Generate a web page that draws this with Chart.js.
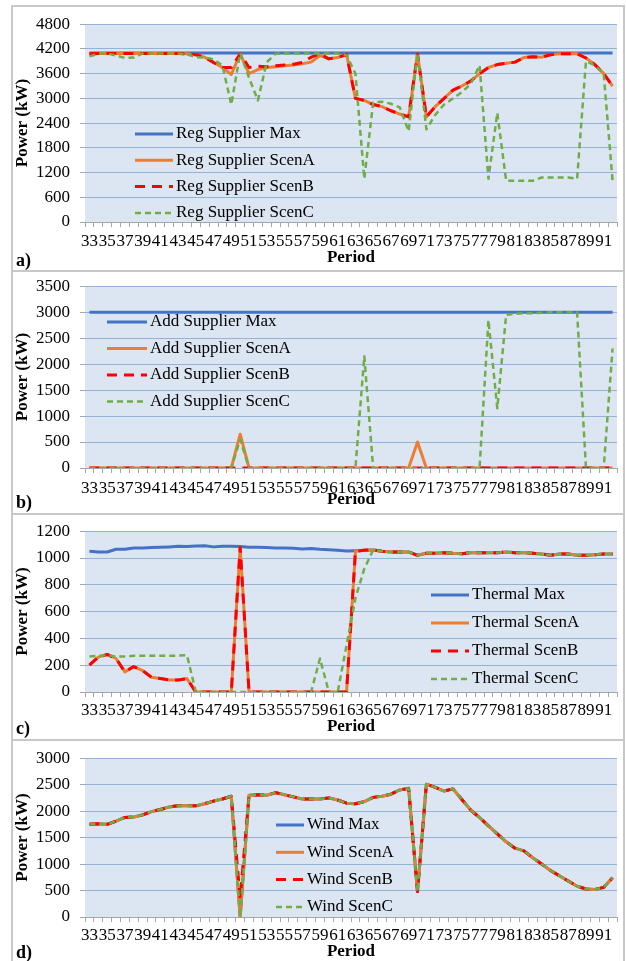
<!DOCTYPE html>
<html>
<head>
<meta charset="utf-8">
<script src="https://cdn.jsdelivr.net/npm/chart.js@4.4.0/dist/chart.umd.min.js"></script>
<style>
  body { margin: 0; background: #fff; width: 626px; height: 961px; overflow: hidden; position: relative; }
  .panel { position: absolute; left: 11px; width: 614px; border: 2px solid #c8c8c8; box-sizing: border-box; }
  canvas { position: absolute; left: 12px; }
  .tag { position: absolute; left: 16px; font: bold 18px "Liberation Serif", serif; line-height: 20px; }
</style>
</head>
<body>
<div class="panel" style="top:5px;height:267px"></div>
<div class="panel" style="top:270px;height:245px"></div>
<div class="panel" style="top:513px;height:228px"></div>
<div class="panel" style="top:739px;height:225px"></div>

<canvas id="chartA" width="612" height="268" style="top:4px"></canvas>
<canvas id="chartB" width="612" height="248" style="top:266px"></canvas>
<canvas id="chartC" width="612" height="230" style="top:511px"></canvas>
<canvas id="chartD" width="612" height="228" style="top:738px"></canvas>

<div class="tag" style="top:250px">a)</div>
<div class="tag" style="top:492px">b)</div>
<div class="tag" style="top:718px">c)</div>
<div class="tag" style="top:942px">d)</div>

<script>
// periods on the x axis, every other one is labelled
const periods = [33,34,35,36,37,38,39,40,41,42,43,44,45,46,47,48,49,50,51,52,
                 53,54,55,56,57,58,59,60,61,62,63,64,65,66,67,68,69,70,71,72,
                 73,74,75,76,77,78,79,80,81,82,83,84,85,86,87,88,89,90,91,92];
const periodTicks = [33,35,37,39,41,43,45,47,49,51,53,55,57,59,61,63,65,67,69,71,
                     73,75,77,79,81,83,85,87,89,91];

// a) regular supplier
const regTicks = [0,600,1200,1800,2400,3000,3600,4200,4800];
const regMax = [4100,4100,4100,4100,4100,4100,4100,4100,4100,4100,4100,4100,4100,4100,4100,4100,4100,4100,4100,4100,
                4100,4100,4100,4100,4100,4100,4100,4100,4100,4100,4100,4100,4100,4100,4100,4100,4100,4100,4100,4100,
                4100,4100,4100,4100,4100,4100,4100,4100,4100,4100,4100,4100,4100,4100,4100,4100,4100,4100,4100,4100];
const regScenA = [4080,4090,4090,4090,4090,4090,4090,4090,4090,4090,4090,4080,
                  4060,4000,3870,3750,3580,4080,3600,3700,3750,3770,3790,3810,
                  3840,3880,4040,3960,3990,4070,3000,2950,2850,2800,2700,2620,
                  2550,4080,2550,2800,3000,3200,3300,3420,3600,3750,3820,3850,
                  3880,3990,4010,4000,4060,4080,4080,4080,3980,3820,3600,3300];
const regScenB = [4080,4090,4090,4090,4090,4090,4090,4090,4090,4090,4090,4080,
                  4060,4000,3870,3750,3750,4080,3750,3780,3770,3790,3810,3830,
                  3870,4000,4080,3960,3990,4070,3000,2950,2850,2800,2700,2620,
                  2550,4080,2550,2800,3000,3200,3300,3420,3600,3750,3820,3850,
                  3880,3990,4010,4000,4060,4080,4080,4080,3980,3820,3600,3300];
const regScenC = [4020,4080,4090,4040,3980,3990,4090,4090,4090,4090,4090,4070,
                  4000,3990,3950,3800,2850,4100,3500,2950,3880,4080,4090,4090,
                  4090,4090,4090,4090,4090,4050,3600,1050,2900,2920,2870,2780,
                  2200,4100,2250,2600,2850,3000,3150,3350,3800,1050,2650,1000,
                  1000,1000,1000,1080,1080,1080,1080,1050,3900,3800,3600,1000];

// b) additional supplier
const addTicks = [0,500,1000,1500,2000,2500,3000,3500];
const addMax = [3000,3000,3000,3000,3000,3000,3000,3000,3000,3000,3000,3000,3000,3000,3000,3000,3000,3000,3000,3000,
                3000,3000,3000,3000,3000,3000,3000,3000,3000,3000,3000,3000,3000,3000,3000,3000,3000,3000,3000,3000,
                3000,3000,3000,3000,3000,3000,3000,3000,3000,3000,3000,3000,3000,3000,3000,3000,3000,3000,3000,3000];
const addScenA = [0,0,0,0,0,0,0,0,0,0,0,0,0,0,0,0,0,650,0,0,
                  0,0,0,0,0,0,0,0,0,0,0,0,0,0,0,0,0,500,0,0,
                  0,0,0,0,0,0,0,0,0,0,0,0,0,0,0,0,0,0,0,0];
const addScenB = [0,0,0,0,0,0,0,0,0,0,0,0,0,0,0,0,0,0,0,0,
                  0,0,0,0,0,0,0,0,0,0,0,0,0,0,0,0,0,0,0,0,
                  0,0,0,0,0,0,0,0,0,0,0,0,0,0,0,0,0,0,0,0];
const addScenC = [0,0,0,0,0,0,0,0,0,0,0,0,0,0,0,0,0,550,0,0,
                  0,0,0,0,0,0,0,0,0,0,0,2150,0,0,0,0,0,0,0,0,
                  0,0,0,0,0,2850,1150,2950,2970,2980,2980,2990,3000,3000,3000,3000,0,0,0,2300];

// c) thermal
const thermalTicks = [0,200,400,600,800,1000,1200];
const thermalMax = [1050,1045,1045,1065,1065,1075,1075,1078,1080,1083,1087,1085,1090,1092,1083,1088,1088,1085,1080,1080,
                    1078,1075,1075,1072,1068,1070,1065,1062,1058,1052,1055,1058,1060,1050,1045,1045,1045,1020,1035,1035,
                    1040,1035,1032,1040,1040,1040,1040,1045,1040,1040,1035,1030,1020,1030,1030,1020,1020,1025,1030,1030];
const thermalScenA = [200,260,280,250,150,190,160,110,100,90,90,100,0,0,0,0,0,1080,0,0,
                      0,0,0,0,0,0,0,0,0,0,1050,1058,1060,1050,1045,1045,1045,1020,1035,1035,
                      1040,1035,1032,1040,1040,1040,1040,1045,1040,1040,1035,1030,1020,1030,1030,1020,1020,1025,1030,1030];
const thermalScenB = [200,260,280,250,150,190,160,110,100,90,90,100,0,0,0,0,0,1080,0,0,
                      0,0,0,0,0,0,0,0,0,0,1050,1058,1060,1050,1045,1045,1045,1020,1035,1035,
                      1040,1035,1032,1040,1040,1040,1040,1045,1040,1040,1035,1030,1020,1030,1030,1020,1020,1025,1030,1030];
const thermalScenC = [265,270,275,265,265,270,270,270,270,270,272,275,0,0,0,0,0,0,0,0,
                      0,0,0,0,0,0,250,0,0,350,700,920,1060,1050,1045,1045,1045,1020,1035,1035,
                      1040,1035,1032,1040,1040,1040,1040,1045,1040,1040,1035,1030,1020,1030,1030,1020,1020,1025,1030,1030];

// d) wind
const windTicks = [0,500,1000,1500,2000,2500,3000];
const windMax = [1750,1760,1750,1810,1880,1890,1930,1990,2030,2080,2100,2100,2100,2140,2190,2230,2280,0,2300,2310,
                 2300,2350,2310,2270,2230,2230,2230,2250,2210,2150,2140,2180,2260,2280,2320,2400,2430,480,2510,2450,
                 2380,2420,2220,2020,1880,1720,1570,1420,1300,1250,1120,1000,880,780,680,580,530,520,560,740];
const windScenA = [1750,1760,1750,1810,1880,1890,1930,1990,2030,2080,2100,2100,2100,2140,2190,2230,2280,0,2300,2310,
                   2300,2350,2310,2270,2230,2230,2230,2250,2210,2150,2140,2180,2260,2280,2320,2400,2430,480,2510,2450,
                   2380,2420,2220,2020,1880,1720,1570,1420,1300,1250,1120,1000,880,780,680,580,530,520,560,740];
const windScenB = [1750,1760,1750,1810,1880,1890,1930,1990,2030,2080,2100,2100,2100,2140,2190,2230,2280,350,2300,2310,
                   2300,2350,2310,2270,2230,2230,2230,2250,2210,2150,2140,2180,2260,2280,2320,2400,2430,480,2510,2450,
                   2380,2420,2220,2020,1880,1720,1570,1420,1300,1250,1120,1000,880,780,680,580,530,520,560,740];
const windScenC = [1750,1760,1750,1810,1880,1890,1930,1990,2030,2080,2100,2100,2100,2140,2190,2230,2280,0,2300,2310,
                   2300,2350,2310,2270,2230,2230,2230,2250,2210,2150,2140,2180,2260,2280,2320,2400,2430,480,2510,2450,
                   2380,2420,2220,2020,1880,1720,1570,1420,1300,1250,1120,1000,880,780,680,580,530,520,560,740];

const FONT = '"Liberation Serif", "Times New Roman", serif';

// light blue plot background like the Excel original
const plotBg = {
  id: 'plotBg',
  beforeDraw(chart) {
    const { ctx, chartArea: a } = chart;
    ctx.save();
    ctx.fillStyle = '#dce6f2';
    ctx.fillRect(a.left, a.top, a.right - a.left, a.bottom - a.top);
    ctx.restore();
  }
};

// legend drawn inside the plot area
const boxLegend = {
  id: 'boxLegend',
  afterDraw(chart, args, opts) {
    const ctx = chart.ctx;
    ctx.save();
    ctx.font = '17px ' + FONT;
    ctx.textBaseline = 'middle';
    chart.data.datasets.forEach((ds, i) => {
      const y = opts.y + i * opts.dy;
      ctx.beginPath();
      ctx.setLineDash(ds.borderDash || []);
      ctx.lineWidth = ds.borderWidth;
      ctx.strokeStyle = ds.borderColor;
      ctx.moveTo(opts.x, y);
      ctx.lineTo(opts.x + opts.len, y);
      ctx.stroke();
      ctx.setLineDash([]);
      ctx.fillStyle = '#000';
      ctx.fillText(ds.label, opts.x + opts.len + 3, y);
    });
    ctx.restore();
  }
};

function makeChart(id, names, series, yMax, yTicks, xH, xPad, legend) {
  const styles = [
    { borderColor: '#4472c4', borderWidth: 3, order: 4 },
    { borderColor: '#ed7d31', borderWidth: 3, order: 3 },
    { borderColor: '#ff0000', borderWidth: 3, borderDash: [10, 7], order: 2 },
    { borderColor: '#70ad47', borderWidth: 2.5, borderDash: [6, 4], order: 1 }
  ];
  return new Chart(document.getElementById(id), {
    type: 'line',
    data: {
      labels: periods,
      datasets: series.map((s, i) => Object.assign({
        label: names[i],
        data: s,
        pointRadius: 0,
        tension: 0,
        fill: false,
        borderJoinStyle: 'round'
      }, styles[i]))
    },
    options: {
      responsive: false,
      animation: false,
      devicePixelRatio: 1,
      layout: { padding: { top: 14, right: 7, bottom: 4, left: 0 } },
      plugins: {
        legend: { display: false },
        tooltip: { enabled: false },
        boxLegend: legend
      },
      scales: {
        x: {
          offset: true,
          grid: { offset: true, drawOnChartArea: false, tickLength: 5, tickColor: '#a6a6a6' },
          border: { color: '#a6a6a6' },
          ticks: {
            autoSkip: false, maxRotation: 0, minRotation: 0, padding: xPad, color: '#000',
            font: { family: FONT, size: 17 },
            callback: (v, i) => periodTicks.includes(periods[i]) ? String(periods[i]) : ''
          },
          title: { display: true, text: 'Period', color: '#000', padding: 0,
                   font: { family: FONT, size: 17, weight: 'bold' } },
          afterFit: s => { s.height = xH; }
        },
        y: {
          min: 0,
          max: yMax,
          afterBuildTicks: s => { s.ticks = yTicks.map(v => ({ value: v })); },
          grid: { color: '#95b3d7', lineWidth: 1, tickLength: 5, tickColor: '#a6a6a6' },
          border: { display: false },
          ticks: { padding: 10, color: '#000', font: { family: FONT, size: 17 },
                   callback: v => String(v) },
          title: { display: true, text: 'Power (kW)', color: '#000', padding: 0,
                   font: { family: FONT, size: 17, weight: 'bold' } },
          afterFit: s => { s.width = 73; }
        }
      }
    },
    plugins: [plotBg, boxLegend]
  });
}

makeChart('chartA',
  ['Reg Supplier Max', 'Reg Supplier ScenA', 'Reg Supplier ScenB', 'Reg Supplier ScenC'],
  [regMax, regScenA, regScenB, regScenC], 4800, regTicks, 46, 4,
  { x: 123, y: 130, dy: 26.3, len: 38 });

makeChart('chartB',
  ['Add Supplier Max', 'Add Supplier ScenA', 'Add Supplier ScenB', 'Add Supplier ScenC'],
  [addMax, addScenA, addScenB, addScenC], 3500, addTicks, 42, 5,
  { x: 95, y: 56, dy: 26.5, len: 40 });

makeChart('chartC',
  ['Thermal Max', 'Thermal ScenA', 'Thermal ScenB', 'Thermal ScenC'],
  [thermalMax, thermalScenA, thermalScenB, thermalScenC], 1200, thermalTicks, 45, 3,
  { x: 419, y: 84, dy: 28, len: 38 });

makeChart('chartD',
  ['Wind Max', 'Wind ScenA', 'Wind ScenB', 'Wind ScenC'],
  [windMax, windScenA, windScenB, windScenC], 3000, windTicks, 45, 3,
  { x: 264, y: 87, dy: 27.3, len: 28 });
</script>
</body>
</html>
